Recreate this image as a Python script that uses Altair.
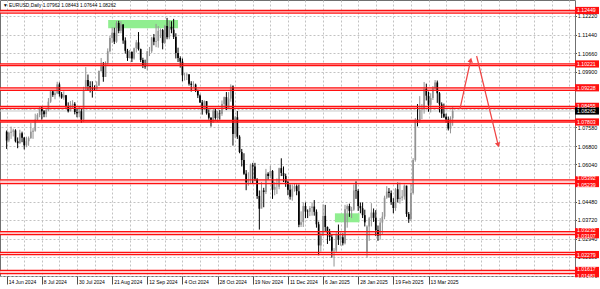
import json
import altair as alt
import pandas as pd

# ---------------- data (EURUSD daily, 14 Jun 2024 .. 28 Mar 2025) ----------------
opens = [
    1.0740, 1.0703, 1.0735, 1.0740, 1.0745, 1.0700, 1.0692, 1.0733, 1.0715, 1.0683, 1.0700,
    1.0713, 1.0740, 1.0744, 1.0790, 1.0810,
    1.0840, 1.0825, 1.0813, 1.0830, 1.0865,
    1.0908, 1.0893, 1.0900, 1.0937, 1.0897,
    1.0882, 1.0892, 1.0845, 1.0825, 1.0850,
    1.0856, 1.0822, 1.0817, 1.0825, 1.0790,
    1.0910, 1.0955, 1.0930, 1.0923, 1.0920,
    1.0917, 1.0932, 1.0993, 1.1013, 1.0968,
    1.1027, 1.1075, 1.1130, 1.1152, 1.1115,
    1.1193, 1.1160, 1.1186, 1.1120, 1.1077,
    1.1047, 1.1072, 1.1045, 1.1088, 1.1112,
    1.1084, 1.1039, 1.1017, 1.1012, 1.1075,
    1.1075, 1.1132, 1.1115, 1.1118, 1.1160,
    1.1163, 1.1110, 1.1180, 1.1133, 1.1177,
    1.1165, 1.1135, 1.1068, 1.1047, 1.1032,
    1.0975, 1.0975, 1.0978, 1.0940, 1.0935,
    1.0936, 1.0910, 1.0891, 1.0862, 1.0833,
    1.0867, 1.0817, 1.0798, 1.0781, 1.0828,
    1.0797, 1.0816, 1.0815, 1.0855, 1.0884,
    1.0833, 1.0878, 1.0928, 1.0730, 1.0800,
    1.0719, 1.0655, 1.0622, 1.0565, 1.0529,
    1.0541, 1.0600, 1.0595, 1.0544, 1.0472,
    1.0419, 1.0495, 1.0489, 1.0565, 1.0555,
    1.0576, 1.0498, 1.0510, 1.0510, 1.0588,
    1.0568, 1.0555, 1.0529, 1.0498, 1.0469,
    1.0502, 1.0513, 1.0492, 1.0352, 1.0363,
    1.0430, 1.0407, 1.0406, 1.0422, 1.0428,
    1.0406, 1.0354, 1.0266, 1.0307, 1.0389,
    1.0343, 1.0320, 1.0301, 1.0244, 1.0245,
    1.0309, 1.0290, 1.0300, 1.0275, 1.0417,
    1.0430, 1.0410, 1.0415, 1.0495, 1.0493,
    1.0430, 1.0421, 1.0392, 1.0240, 1.0345,
    1.0379, 1.0403, 1.0381, 1.0330, 1.0306,
    1.0361, 1.0386, 1.0465, 1.0490, 1.0484,
    1.0447, 1.0422, 1.0500, 1.0459, 1.0465,
    1.0470, 1.0515, 1.0397, 1.0375, 1.0484,
    1.0622, 1.0790, 1.0784, 1.0833, 1.0833,
    1.0919, 1.0890, 1.0852, 1.0880, 1.0921,
    1.0945, 1.0900, 1.0854, 1.0815, 1.0802,
    1.0791, 1.0753, 1.07962,
]
highs = [
    1.0745, 1.0740, 1.0761, 1.0752, 1.0750, 1.0716, 1.0748, 1.0740, 1.0718, 1.0719, 1.0720,
    1.0776, 1.0755, 1.0815, 1.0817, 1.0845,
    1.0845, 1.0830, 1.0833, 1.0880, 1.0910,
    1.0912, 1.0911, 1.0948, 1.0945, 1.0905,
    1.0908, 1.0893, 1.0862, 1.0868, 1.0871,
    1.0863, 1.0835, 1.0845, 1.0837, 1.0927,
    1.1009, 1.0978, 1.0950, 1.0950, 1.0933,
    1.0950, 1.0995, 1.1047, 1.1030, 1.1033,
    1.1087, 1.1139, 1.1175, 1.1173, 1.1201,
    1.1202, 1.1200, 1.1188, 1.1133, 1.1085,
    1.1080, 1.1075, 1.1090, 1.1122, 1.1155,
    1.1086, 1.1048, 1.1040, 1.1075, 1.1093,
    1.1135, 1.1147, 1.1189, 1.1180, 1.1170,
    1.1168, 1.1185, 1.1214, 1.1202, 1.1200,
    1.1210, 1.1150, 1.1090, 1.1054, 1.1045,
    1.0986, 1.0985, 1.0980, 1.0950, 1.0950,
    1.0940, 1.0915, 1.0895, 1.0872, 1.0870,
    1.0867, 1.0833, 1.0800, 1.0838, 1.0837,
    1.0826, 1.0830, 1.0870, 1.0886, 1.0905,
    1.0905, 1.0937, 1.0933, 1.0806, 1.0826,
    1.0725, 1.0668, 1.0650, 1.0580, 1.0571,
    1.0607, 1.0610, 1.0610, 1.0545, 1.0495,
    1.0530, 1.0506, 1.0585, 1.0571, 1.0597,
    1.0580, 1.0530, 1.0545, 1.0590, 1.0629,
    1.0595, 1.0565, 1.0535, 1.0520, 1.0520,
    1.0525, 1.0520, 1.0520, 1.0408, 1.0445,
    1.0445, 1.0416, 1.0430, 1.0445, 1.0455,
    1.0416, 1.0365, 1.0320, 1.0437, 1.0435,
    1.0345, 1.0335, 1.0313, 1.0255, 1.0326,
    1.0353, 1.0320, 1.0316, 1.0435, 1.0437,
    1.0440, 1.0427, 1.0520, 1.0533, 1.0500,
    1.0445, 1.0445, 1.0415, 1.0350, 1.0385,
    1.0442, 1.0420, 1.0413, 1.0349, 1.0380,
    1.0405, 1.0473, 1.0513, 1.0505, 1.0495,
    1.0463, 1.0505, 1.0528, 1.0528, 1.0497,
    1.0520, 1.0515, 1.0405, 1.0525, 1.0630,
    1.0797, 1.0855, 1.0888, 1.0855, 1.0947,
    1.0940, 1.0907, 1.0900, 1.0930, 1.0955,
    1.0953, 1.0905, 1.0862, 1.0857, 1.0815,
    1.0803, 1.0804, 1.08443,
]
lows = [
    1.0668, 1.0696, 1.0710, 1.0720, 1.0695, 1.0671, 1.0690, 1.0696, 1.0666, 1.0675, 1.0681,
    1.0710, 1.0710, 1.0740, 1.0785, 1.0800,
    1.0790, 1.0800, 1.0800, 1.0825, 1.0860,
    1.0885, 1.0875, 1.0896, 1.0886, 1.0877,
    1.0873, 1.0840, 1.0820, 1.0825, 1.0835,
    1.0812, 1.0800, 1.0800, 1.0777, 1.0780,
    1.0910, 1.0910, 1.0903, 1.0882, 1.0910,
    1.0910, 1.0930, 1.0990, 1.0948, 1.0970,
    1.1020, 1.1070, 1.1110, 1.1105, 1.1110,
    1.1150, 1.1150, 1.1106, 1.1065, 1.1035,
    1.1045, 1.1030, 1.1040, 1.1070, 1.1078,
    1.1030, 1.1005, 1.1002, 1.0995, 1.1055,
    1.1068, 1.1100, 1.1092, 1.1090, 1.1130,
    1.1083, 1.1105, 1.1125, 1.1125, 1.1150,
    1.1126, 1.1045, 1.1030, 1.1007, 1.0950,
    1.0953, 1.0955, 1.0932, 1.0907, 1.0925,
    1.0905, 1.0880, 1.0860, 1.0811, 1.0830,
    1.0811, 1.0790, 1.0761, 1.0776, 1.0790,
    1.0780, 1.0790, 1.0806, 1.0837, 1.0830,
    1.0850, 1.0865, 1.0682, 1.0714, 1.0710,
    1.0650, 1.0595, 1.0560, 1.0496, 1.0515,
    1.0522, 1.0523, 1.0535, 1.0460, 1.0332,
    1.0427, 1.0425, 1.0480, 1.0540, 1.0547,
    1.0460, 1.0475, 1.0480, 1.0500, 1.0555,
    1.0530, 1.0510, 1.0475, 1.0457, 1.0452,
    1.0490, 1.0475, 1.0342, 1.0343, 1.0343,
    1.0380, 1.0380, 1.0388, 1.0390, 1.0390,
    1.0340, 1.0225, 1.0240, 1.0306, 1.0326,
    1.0272, 1.0285, 1.0215, 1.0178, 1.0235,
    1.0268, 1.0265, 1.0266, 1.0270, 1.0340,
    1.0385, 1.0380, 1.0410, 1.0460, 1.0410,
    1.0400, 1.0380, 1.0345, 1.0215, 1.0285,
    1.0345, 1.0364, 1.0305, 1.0285, 1.0290,
    1.0310, 1.0375, 1.0460, 1.0465, 1.0435,
    1.0400, 1.0410, 1.0445, 1.0440, 1.0452,
    1.0457, 1.0385, 1.0360, 1.0368, 1.0478,
    1.0615, 1.0762, 1.0776, 1.0792, 1.0815,
    1.0870, 1.0823, 1.0820, 1.0872, 1.0915,
    1.0860, 1.0820, 1.0797, 1.0797, 1.0777,
    1.0745, 1.0733, 1.07644,
]
closes = [
    1.0703, 1.0735, 1.0740, 1.0745, 1.0700, 1.0692, 1.0733, 1.0715, 1.0683, 1.0700, 1.0713,
    1.0740, 1.0744, 1.0790, 1.0810, 1.0840,
    1.0825, 1.0813, 1.0830, 1.0865, 1.0908,
    1.0893, 1.0900, 1.0937, 1.0897, 1.0882,
    1.0892, 1.0845, 1.0825, 1.0850, 1.0856,
    1.0822, 1.0817, 1.0825, 1.0790, 1.0910,
    1.0955, 1.0930, 1.0923, 1.0920, 1.0917,
    1.0932, 1.0993, 1.1013, 1.0968, 1.1027,
    1.1075, 1.1130, 1.1152, 1.1115, 1.1193,
    1.1160, 1.1186, 1.1120, 1.1077, 1.1047,
    1.1072, 1.1045, 1.1088, 1.1112, 1.1084,
    1.1039, 1.1017, 1.1012, 1.1075, 1.1075,
    1.1132, 1.1115, 1.1118, 1.1160, 1.1163,
    1.1110, 1.1180, 1.1133, 1.1177, 1.1165,
    1.1135, 1.1068, 1.1047, 1.1032, 1.0975,
    1.0975, 1.0978, 1.0940, 1.0935, 1.0936,
    1.0910, 1.0891, 1.0862, 1.0833, 1.0867,
    1.0817, 1.0798, 1.0781, 1.0828, 1.0797,
    1.0816, 1.0815, 1.0855, 1.0884, 1.0833,
    1.0878, 1.0928, 1.0730, 1.0800, 1.0719,
    1.0655, 1.0622, 1.0565, 1.0529, 1.0541,
    1.0600, 1.0595, 1.0544, 1.0472, 1.0419,
    1.0495, 1.0489, 1.0565, 1.0555, 1.0576,
    1.0498, 1.0510, 1.0510, 1.0588, 1.0568,
    1.0555, 1.0529, 1.0498, 1.0469, 1.0502,
    1.0513, 1.0492, 1.0352, 1.0363, 1.0430,
    1.0407, 1.0406, 1.0422, 1.0428, 1.0406,
    1.0354, 1.0266, 1.0307, 1.0389, 1.0343,
    1.0320, 1.0301, 1.0244, 1.0245, 1.0309,
    1.0290, 1.0300, 1.0275, 1.0417, 1.0430,
    1.0410, 1.0415, 1.0495, 1.0493, 1.0430,
    1.0421, 1.0392, 1.0362, 1.0345, 1.0379,
    1.0403, 1.0381, 1.0330, 1.0306, 1.0361,
    1.0386, 1.0465, 1.0490, 1.0484, 1.0447,
    1.0422, 1.0500, 1.0459, 1.0465, 1.0470,
    1.0515, 1.0397, 1.0375, 1.0484, 1.0622,
    1.0790, 1.0784, 1.0833, 1.0833, 1.0919,
    1.0890, 1.0852, 1.0880, 1.0921, 1.0945,
    1.0900, 1.0854, 1.0815, 1.0802, 1.0791,
    1.0753, 1.07962, 1.08262,
]

date_labels = ["14 Jun 2024", "8 Jul 2024", "30 Jul 2024", "21 Aug 2024", "12 Sep 2024",
               "4 Oct 2024", "28 Oct 2024", "19 Nov 2024", "11 Dec 2024", "6 Jan 2025",
               "28 Jan 2025", "19 Feb 2025", "13 Mar 2025"]
bars_per_label = 16
bars_per_grid = 8

price_ticks = [1.12220, 1.11440, 1.10660, 1.09900, 1.09120, 1.08340, 1.07580, 1.06800,
               1.06040, 1.05260, 1.04480, 1.03720, 1.02940, 1.02180, 1.01400]
# tick labels fully covered by the level labels in the reference
covered_ticks = [1.09120, 1.08340, 1.05260]

zone_top = [1.12449, 1.10221, 1.09228, 1.08455, 1.07870, 1.05392, 1.03232, 1.02370, 1.01617]
zone_bottom = [1.12340, 1.10150, 1.09120, 1.08370, 1.07803, 1.05239, 1.03107, 1.02279, 1.01481]

level_prices = [1.12449, 1.10221, 1.09228, 1.08455, 1.07803, 1.05392, 1.05239,
                1.03232, 1.03107, 1.02279, 1.01617, 1.01481]
level_texts = ["1.12449", "1.10221", "1.09228", "1.08455", "1.07803", "1.05392", "1.05239",
               "1.03232", "1.03107", "1.02279", "1.01617", "1.01481"]
level_nudge = ["", "", "", "", "", "up", "down", "up", "down", "", "up", "down"]
current_price = 1.08262
current_text = "1.08262"

green_start = [46.2, 149.4]
green_end = [78.0, 160.6]
green_top = [1.12053, 1.03998]
green_bottom = [1.11707, 1.03623]

arrow_x0 = [206.3, 213.9]
arrow_y0 = [1.08344, 1.10553]
arrow_x1 = [211.2, 223.7]
arrow_y1 = [1.10386, 1.06844]
arrow_angle = [13, 166]

title_text = "\u25bc EURUSD,Daily  1.07962 1.08443 1.07644 1.08262"

# ---------------- chart ----------------
W, H = 575, 276
FONT = "Liberation Sans"
GRID = "#c2c2c2"
RED = "#ff1010"
ARROW = "#f04444"

n = len(closes)
candles = pd.DataFrame({"i": list(range(n)), "o": opens, "h": highs, "l": lows, "c": closes})
candles["dir"] = ["up" if c >= o else "down" for o, c in zip(opens, closes)]

xs = alt.Scale(domain=[-0.76, 256.4], nice=False, zero=False)
ys = alt.Scale(domain=[1.01386, 1.12886], nice=False, zero=False)

last_label_bar = bars_per_label * (len(date_labels) - 1)
label_expr = (
    "datum.value %% %d === 0 && datum.value <= %d ? %s[datum.value / %d] : ''"
    % (bars_per_label, last_label_bar, json.dumps(date_labels), bars_per_label)
)
covered_test = " || ".join("abs(datum.value - %r) < 1e-7" % v for v in covered_ticks)
y_label_expr = "(%s) ? '' : format(datum.value, '.5f')" % covered_test

x_axis = alt.Axis(
    values=list(range(0, 257, bars_per_grid)), labelExpr=label_expr,
    grid=True, gridColor=GRID, gridDash=[2, 2], gridWidth=1,
    domain=False, tickSize=8, tickColor="#505050", tickWidth=1,
    tickOpacity={"condition": {"test": "datum.value %% %d === 0 && datum.value <= %d"
                               % (bars_per_label, last_label_bar), "value": 1}, "value": 0},
    labelAlign="left", labelBaseline="top", labelPadding=-5, labelOffset=1.5,
    labelFont=FONT, labelFontSize=5, labelColor="#000000",
    labelOverlap=False, labelFlush=False, labelBound=False, title=None,
)
y_axis = alt.Axis(
    orient="right", values=price_ticks, labelExpr=y_label_expr,
    grid=True, gridColor=GRID, gridDash=[2, 2], gridWidth=1,
    domain=False, tickSize=1.5, tickColor="#505050",
    labelAlign="left", labelBaseline="middle", labelPadding=0.8,
    labelFont=FONT, labelFontSize=5.4, labelColor="#000000",
    labelOverlap=False, labelFlush=False, labelBound=False, title=None,
)


def X(field):
    return alt.X(field, scale=xs, axis=x_axis, title=None)


def Y(field):
    return alt.Y(field, scale=ys, axis=y_axis, title=None)


green_df = pd.DataFrame({"x0": green_start, "x1": green_end, "top": green_top, "bottom": green_bottom})
green = alt.Chart(green_df).mark_rect(color="#90ee90").encode(
    x=X("x0:Q"), x2="x1:Q", y=Y("top:Q"), y2="bottom:Q",
)

zones_df = pd.DataFrame({"top": zone_top, "bottom": zone_bottom})
zone_fill = alt.Chart(zones_df).mark_rect(color="#ffc4c4", opacity=0.85).encode(
    y=Y("top:Q"), y2="bottom:Q"
)
lines_df = pd.DataFrame({"p": zone_top + zone_bottom})
zone_lines = alt.Chart(lines_df).mark_rule(color=RED, strokeWidth=1.3).encode(y=Y("p:Q"))

cur_df = pd.DataFrame({"p": [current_price], "t": [current_text]})
cur_line = alt.Chart(cur_df).mark_rule(color="#c8c8c8", strokeWidth=1).encode(y=Y("p:Q"))

cscale = alt.Scale(domain=["up", "down"], range=["#939393", "#000000"])
wick = alt.Chart(candles).mark_rule(strokeWidth=1).encode(
    x=X("i:Q"), y=Y("l:Q"), y2="h:Q",
    color=alt.Color("dir:N", scale=cscale, legend=None),
)
body = alt.Chart(candles).mark_bar(size=1.7).encode(
    x=X("i:Q"), y=Y("o:Q"), y2="c:Q",
    color=alt.Color("dir:N", scale=cscale, legend=None),
)

arrows_df = pd.DataFrame({"x0": arrow_x0, "y0": arrow_y0, "x1": arrow_x1, "y1": arrow_y1, "ang": arrow_angle})
arrow_lines = alt.Chart(arrows_df).mark_rule(color=ARROW, strokeWidth=1.2).encode(
    x=X("x0:Q"), x2="x1:Q", y=Y("y0:Q"), y2="y1:Q",
)
arrow_heads = alt.Chart(arrows_df).mark_point(
    shape="triangle-up", filled=True, size=30, color=ARROW, opacity=1
).encode(
    x=X("x1:Q"), y=Y("y1:Q"), angle=alt.Angle("ang:Q", scale=None),
)

BOX = "M-1,-0.3L1,-0.3L1,0.3L-1,0.3Z"
labels_df = pd.DataFrame({
    "p": level_prices + [current_price],
    "t": level_texts + [current_text],
    "bg": [RED] * len(level_prices) + ["#000000"],
    "nudge": level_nudge + [""],
})
label_boxes = alt.Chart(labels_df).mark_point(
    shape=BOX, size=576, filled=True, opacity=1, strokeWidth=0
).encode(
    x=alt.value(587), y=Y("p:Q"), color=alt.Color("bg:N", scale=None),
)


def label_text(nudge, dy):
    return alt.Chart(labels_df).transform_filter(
        alt.datum.nudge == nudge
    ).mark_text(
        align="left", baseline="middle", font=FONT, fontSize=5.2, color="#ffffff", dy=dy
    ).encode(x=alt.value(577), y=Y("p:Q"), text="t:N")


label_texts = [label_text("", 0), label_text("up", -1.8), label_text("down", 1.8)]

title_df = pd.DataFrame({"t": [title_text]})
title = alt.Chart(title_df).mark_text(
    align="left", baseline="middle", font=FONT, fontSize=4.8, color="#000000"
).encode(x=alt.value(3), y=alt.value(6), text="t:N")

chart = alt.layer(
    green, zone_fill, cur_line, wick, body, zone_lines,
    arrow_lines, arrow_heads, label_boxes, *label_texts, title,
).properties(
    width=W, height=H,
    padding={"left": 0, "top": 0, "right": 25, "bottom": 13},
    autosize=alt.AutoSizeParams(type="none"),
).configure(background="#ffffff").configure_view(stroke="#707070", strokeWidth=1)

chart.save("out.html", embed_options={"renderer": "svg", "actions": False})
